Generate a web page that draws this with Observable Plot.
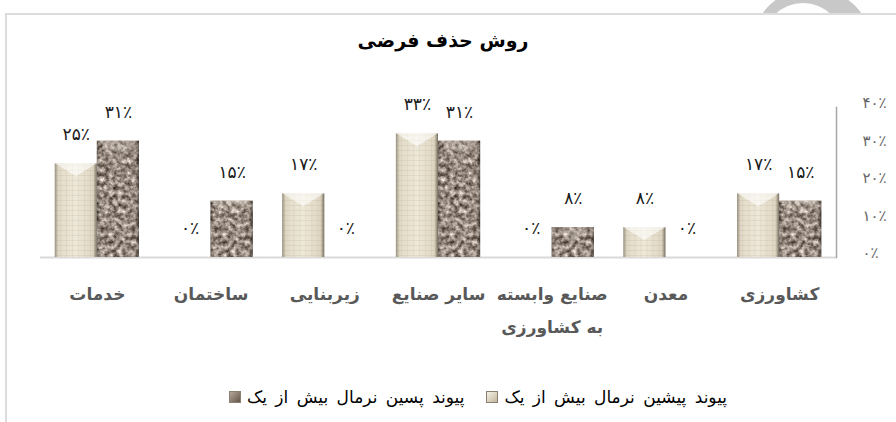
<!DOCTYPE html>
<html><head><meta charset="utf-8">
<script src="https://cdn.jsdelivr.net/npm/d3@7"></script>
<script src="https://cdn.jsdelivr.net/npm/@observablehq/plot@0.6"></script>
<style>
html,body{margin:0;padding:0;background:#fff;width:896px;height:422px;overflow:hidden;}
#page{position:relative;width:896px;height:422px;font-family:"DejaVu Sans",sans-serif;}
#ringOuter{position:absolute;left:751px;top:-12px;width:122px;height:122px;background:#c8c8c8;border-radius:50%;}
#ringInner{position:absolute;left:763px;top:3px;width:80px;height:80px;background:#fff;border-radius:50%;}
#frame{position:absolute;left:5px;top:13px;right:-2px;bottom:-2px;background:#fff;border-top:2px solid #dcdcdc;border-left:2px solid #dcdcdc;}
#title{position:absolute;left:0;width:886px;top:29px;text-align:center;direction:rtl;font-weight:bold;font-size:19px;color:#000;}
#chart{position:absolute;left:0;top:0;}
#legend{position:absolute;top:387px;left:0;width:896px;box-sizing:border-box;padding-left:60px;display:flex;justify-content:center;direction:rtl;font-size:17px;word-spacing:3px;color:#000;gap:22px;}
#legend .item{display:flex;align-items:center;gap:6px;}
#legend .sw{width:10px;height:10px;border:1px solid #8a8070;}
</style>
</head><body>
<div id="page">
  <div id="ringOuter"></div>
  <div id="ringInner"></div>
  <div id="frame"></div>
  <div id="title"></div>
  <div id="chart"></div>
  <div id="legend"></div>
</div>
<script>
// ---- data ----
const title = "روش حذف فرضی";
const categories = ["کشاورزی", "معدن", "صنایع وابسته به کشاورزی", "سایر صنایع", "زیربنایی", "ساختمان", "خدمات"];
const seriesNames = ["پیوند پیشین نرمال بیش از یک", "پیوند پسین نرمال بیش از یک"];
const backwardValues = [17, 8, 0, 33, 17, 0, 25];   // پیوند پیشین
const forwardValues  = [15, 0, 8, 31, 0, 15, 31];   // پیوند پسین
const yTicks = [0, 10, 20, 30, 40];
const seriesFills = ["url(#lightGrad)", "url(#darkBase)"];
const swatchCss = ["linear-gradient(135deg,#f4f0e6,#d8cfba 60%,#bfb49c)", "linear-gradient(135deg,#b3a89c,#857769 60%,#5f5349)"];

// ---- helpers ----
const faDigits = "۰۱۲۳۴۵۶۷۸۹";
const fa = v => String(v).replace(/\d/g, d => faDigits[d]) + "٪";
const wrapLabel = d => d === "صنایع وابسته به کشاورزی" ? "صنایع وابسته\nبه کشاورزی" : d;

const data = categories.flatMap((c, i) => [
  {cat: c, series: seriesNames[0], value: backwardValues[i]},
  {cat: c, series: seriesNames[1], value: forwardValues[i]}
]);

function decorate(index, scales, values, dims, context, next) {
  const g = next(index, scales, values, dims, context);
  const ns = "http://www.w3.org/2000/svg";
  Array.from(g.querySelectorAll("rect")).forEach(r => {
    const x = +r.getAttribute("x"), y = +r.getAttribute("y");
    const w = +r.getAttribute("width"), h = +r.getAttribute("height");
    if (!(h > 0)) return;
    const isDark = (r.getAttribute("fill") || "").includes("dark");
    const parent = r.parentNode, after = r.nextSibling;
    const clone = fill => {
      const t = document.createElementNS(ns, "rect");
      ["x", "y", "width", "height"].forEach(a => t.setAttribute(a, r.getAttribute(a)));
      t.setAttribute("fill", fill);
      parent.insertBefore(t, after);
      return t;
    };
    if (isDark) clone("#000").setAttribute("filter", "url(#granite)");
    else clone("url(#gridPat)");
    clone("url(#edgeShade)");
    const d = Math.min(w * 0.31, h);
    const p = document.createElementNS(ns, "polygon");
    p.setAttribute("points", `${x},${y} ${x + w},${y} ${x + w / 2},${y + d}`);
    p.setAttribute("fill", isDark ? "rgba(255,250,240,0.2)" : "rgba(255,255,255,0.6)");
    parent.insertBefore(p, after);
  });
  return g;
}

const plot = Plot.plot({
  width: 896,
  height: 422,
  marginTop: 107,
  marginBottom: 165,
  marginLeft: 40,
  marginRight: 60,
  style: {background: "transparent", fontFamily: "DejaVu Sans, sans-serif", overflow: "visible"},
  fx: {domain: categories.slice().reverse(), padding: 0, round: false, label: null},
  x: {domain: seriesNames, paddingInner: 0, paddingOuter: 0.35, round: false, axis: null},
  y: {domain: [0, 40], axis: null},
  color: {domain: seriesNames, range: seriesFills},
  marks: [
    Plot.ruleY([0], {stroke: "#d9d9d9", strokeWidth: 2}),
    Plot.frame({anchor: "right", facetAnchor: "right", stroke: "#a6a6a6", strokeWidth: 1.5}),
    Plot.barY(data, {fx: "cat", x: "series", y: "value", fill: "series", render: decorate}),
    Plot.text(data, {fx: "cat", x: "series", y: "value", text: d => fa(d.value), dy: -29, fontSize: 17, fill: "#1a1a1a"}),
    Plot.axisY({anchor: "right", ticks: yTicks, tickFormat: fa, tickSize: 0, tickPadding: 26, textAnchor: "start", fontSize: 15, fill: "#666", dy: -4, label: null}),
    Plot.axisFx({anchor: "bottom", tickSize: 0, tickPadding: 20, tickFormat: wrapLabel, fontSize: 17, fontWeight: "bold", fill: "#595959", lineHeight: 1.9, label: null})
  ]
});

const defs = d3.select(plot).insert("defs", ":first-child");
defs.html(`
  <linearGradient id="lightGrad" x1="0" x2="1" y1="0" y2="0">
    <stop offset="0" stop-color="#cdc4ae"/>
    <stop offset="0.12" stop-color="#e3dcc9"/>
    <stop offset="0.5" stop-color="#eee8d9"/>
    <stop offset="0.88" stop-color="#e0d8c4"/>
    <stop offset="1" stop-color="#c7bda6"/>
  </linearGradient>
  <linearGradient id="darkBase" x1="0" x2="1"><stop offset="0" stop-color="#9a8e83"/><stop offset="1" stop-color="#9a8e83"/></linearGradient>
  <linearGradient id="edgeShade" x1="0" x2="1" y1="0" y2="0">
    <stop offset="0" stop-color="#000" stop-opacity="0.25"/>
    <stop offset="0.08" stop-color="#000" stop-opacity="0"/>
    <stop offset="0.92" stop-color="#000" stop-opacity="0"/>
    <stop offset="1" stop-color="#000" stop-opacity="0.4"/>
  </linearGradient>
  <pattern id="gridPat" width="6" height="5" patternUnits="userSpaceOnUse">
    <rect x="0" y="0" width="6" height="1" fill="#a89c82" fill-opacity="0.16"/>
    <rect x="0" y="0" width="1" height="5" fill="#a89c82" fill-opacity="0.14"/>
  </pattern>
  <filter id="granite" x="0" y="0" width="1" height="1" color-interpolation-filters="sRGB">
    <feTurbulence type="fractalNoise" baseFrequency="0.22" numOctaves="3" seed="7" result="n"/>
    <feColorMatrix in="n" type="matrix" values="1.05 0 0 0 0.07  1.05 0 0 0 0.02  1.05 0 0 0 -0.02  0 0 0 0 1" result="c"/>
    <feComposite in="c" in2="SourceGraphic" operator="in"/>
  </filter>
`);
document.getElementById("chart").appendChild(plot);
document.getElementById("title").textContent = title;

const legend = d3.select("#legend");
seriesNames.forEach((name, i) => {
  const item = legend.append("div").attr("class", "item");
  item.append("span").text(name);
  item.append("span").attr("class", "sw").style("background", swatchCss[i]);
});
</script>
</body></html>
